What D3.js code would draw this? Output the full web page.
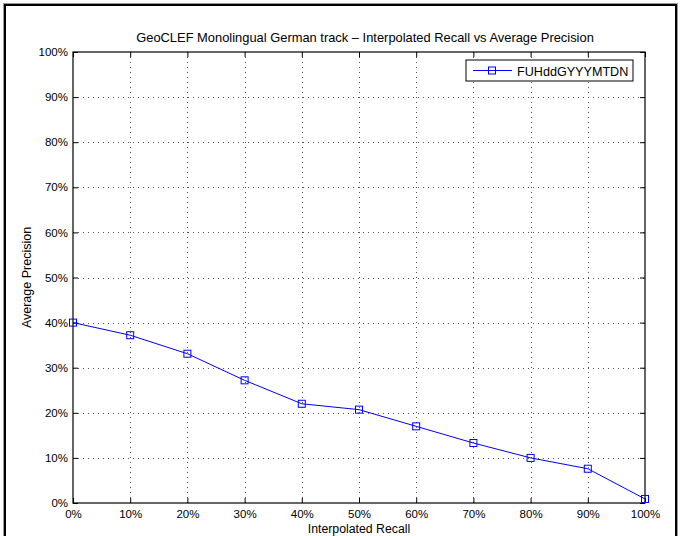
<!DOCTYPE html>
<html><head><meta charset="utf-8">
<script src="https://cdn.jsdelivr.net/npm/d3@7"></script>
<style>body{margin:0;background:#fff}svg{display:block}text{font-family:"Liberation Sans",Arial,sans-serif;fill:#000}</style>
</head><body><svg id="c" width="685" height="536"></svg>
<script>
const recall = [0, 10, 20, 30, 40, 50, 60, 70, 80, 90, 100];
const precision = [40.0, 37.2, 33.1, 27.2, 22.0, 20.7, 17.0, 13.3, 10.0, 7.6, 0.9];
const xTicks = [0, 10, 20, 30, 40, 50, 60, 70, 80, 90, 100];
const yTicks = [0, 10, 20, 30, 40, 50, 60, 70, 80, 90, 100];
const seriesName = "FUHddGYYYMTDN";
const title = "GeoCLEF Monolingual German track \u2013 Interpolated Recall vs Average Precision";

(function () {
const svg = d3.select("#c");
const L = 73, R = 645, T = 52, B = 503;
const x = d3.scaleLinear().domain([0, 100]).range([L, R]);
const y = d3.scaleLinear().domain([0, 100]).range([B, T]);

// outer frame
svg.append("rect").attr("x", 3.5).attr("y", 3.5).attr("width", 674).attr("height", 540)
  .attr("fill", "none").attr("stroke", "#999").attr("stroke-width", 1);
svg.append("rect").attr("x", 5).attr("y", 5).attr("width", 671).attr("height", 540)
  .attr("fill", "none").attr("stroke", "#000").attr("stroke-width", 2);

// grid
const grid = svg.append("g").attr("stroke", "#555").attr("stroke-width", 1).attr("stroke-dasharray", "1,4");
xTicks.slice(1, -1).forEach(t => grid.append("line").attr("x1", Math.round(x(t)) + 0.5).attr("x2", Math.round(x(t)) + 0.5).attr("y1", T).attr("y2", B));
yTicks.slice(1, -1).forEach(t => grid.append("line").attr("y1", Math.round(y(t)) + 0.5).attr("y2", Math.round(y(t)) + 0.5).attr("x1", L).attr("x2", R));

// axes (MATLAB-like inward ticks)
const axB = d3.axisBottom(x).tickValues(xTicks).tickSize(-5).tickPadding(7).tickFormat(d => d + "%");
const axL = d3.axisLeft(y).tickValues(yTicks).tickSize(-5).tickPadding(5).tickFormat(d => d + "%");
const axT = d3.axisTop(x).tickValues(xTicks).tickSize(-5).tickFormat("");
const axR = d3.axisRight(y).tickValues(yTicks).tickSize(-5).tickFormat("");
function style(g) {
  g.select(".domain").remove();
  g.selectAll("line").attr("stroke", "#000");
  g.selectAll("text").attr("font-size", 11.5).attr("font-family", "Liberation Sans, Arial, sans-serif");
}
svg.append("g").attr("transform", `translate(0,${B})`).call(axB).call(style);
svg.append("g").attr("transform", `translate(${L},0)`).call(axL).call(style);
svg.append("g").attr("transform", `translate(0,${T})`).call(axT).call(style);
svg.append("g").attr("transform", `translate(${R},0)`).call(axR).call(style);
svg.append("rect").attr("x", L).attr("y", T).attr("width", R - L).attr("height", B - T)
  .attr("fill", "none").attr("stroke", "#000").attr("stroke-width", 1.2);

// series
const pts = recall.map((r, i) => [r, precision[i]]);
svg.append("path").datum(pts).attr("fill", "none").attr("stroke", "#0000ff").attr("stroke-width", 1)
  .attr("d", d3.line().x(d => x(d[0])).y(d => y(d[1])));
svg.append("g").selectAll("rect").data(pts).join("rect")
  .attr("x", d => x(d[0]) - 3.5).attr("y", d => y(d[1]) - 3.5).attr("width", 7).attr("height", 7)
  .attr("fill", "none").attr("stroke", "#0000ff").attr("stroke-width", 1);

// title & labels
svg.append("text").attr("x", 365).attr("y", 42).attr("text-anchor", "middle").attr("font-size", 12.9).text(title);
svg.append("text").attr("x", 359).attr("y", 533).attr("text-anchor", "middle").attr("font-size", 12.3).text("Interpolated Recall");
svg.append("text").attr("transform", `translate(31,${(T + B) / 2}) rotate(-90)`).attr("text-anchor", "middle").attr("font-size", 12.5).text("Average Precision");

// legend
const lg = svg.append("g");
lg.append("rect").attr("x", 466).attr("y", 60).attr("width", 167).attr("height", 21).attr("fill", "#fff").attr("stroke", "#000").attr("stroke-width", 1);
lg.append("line").attr("x1", 473).attr("x2", 512).attr("y1", 70.5).attr("y2", 70.5).attr("stroke", "#0000ff");
lg.append("rect").attr("x", 492 - 3.5).attr("y", 70.5 - 3.5).attr("width", 7).attr("height", 7).attr("fill", "none").attr("stroke", "#0000ff");
lg.append("text").attr("x", 517).attr("y", 75.5).attr("font-size", 12.6).text(seriesName);
})();
</script></body></html>
